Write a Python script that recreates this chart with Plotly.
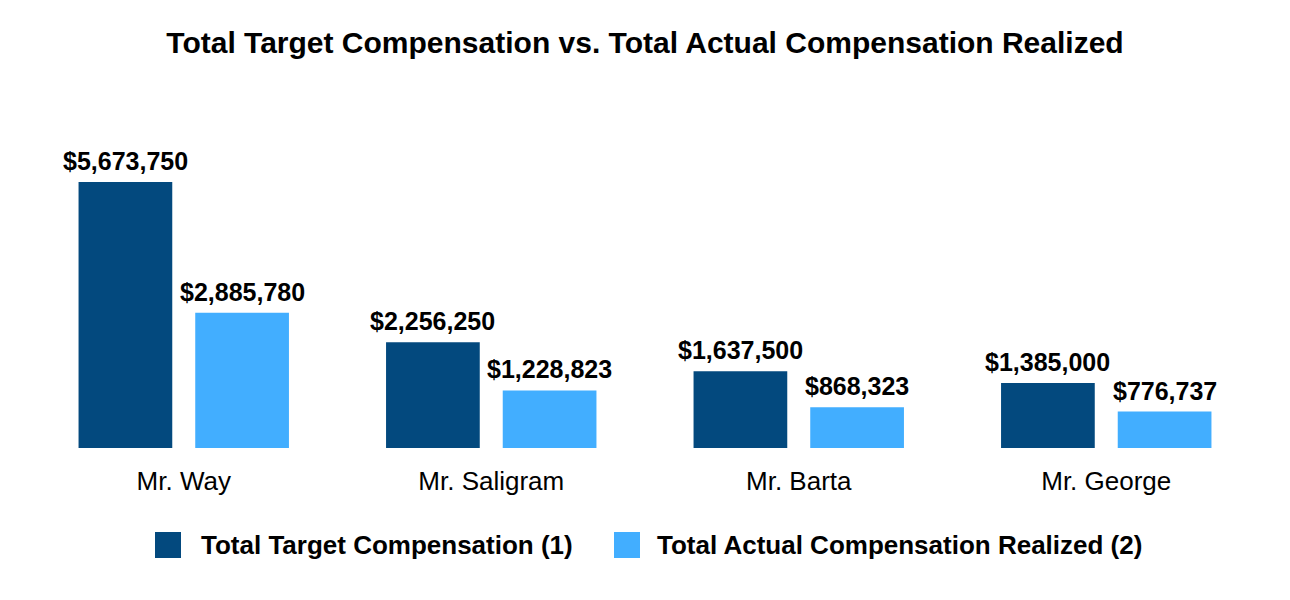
import plotly.graph_objects as go

categories = ["Mr. Way", "Mr. Saligram", "Mr. Barta", "Mr. George"]
target_comp = [5673750, 2256250, 1637500, 1385000]
actual_comp = [2885780, 1228823, 868323, 776737]
series_names = ["Total Target Compensation (1)", "Total Actual Compensation Realized (2)"]
colors = ["#03497E", "#42AEFF"]

W, H = 1290, 600
ML, MR, MT, MB = 30, 30, 100, 152
PW, PH = W - ML - MR, H - MT - MB
BARGAP, GROUPGAP = 0.241, 0.197

def px_x(px):
    return (px - ML) / PW

def px_y(py):
    return (H - MB - py) / PH

font_fam = "Liberation Sans, Arial, sans-serif"

fig = go.Figure()
series_vals = [target_comp, actual_comp]
for name, vals, col in zip(series_names, series_vals, colors):
    fig.add_trace(go.Bar(
        x=categories, y=vals, name=name, marker=dict(color=col, line=dict(width=0)),
        cliponaxis=False, showlegend=False, hoverinfo="x+y",
    ))

# value labels placed at each bar's data position
slot_px = PW / len(categories) * (1 - BARGAP) / 2
for i, vals in enumerate(series_vals):
    shift = (i - 0.5) * slot_px
    for cat, v in zip(categories, vals):
        fig.add_annotation(x=cat, y=v, xref="x", yref="y", xshift=shift, yshift=5,
                           xanchor="center", yanchor="bottom", showarrow=False,
                           text=f"<b>${v:,.0f}</b>",
                           font=dict(family=font_fam, size=25, color="#000000"))

# manual legend
legend_items = [(155, 199), (614, 655)]
for (sx, tx), name, col in zip(legend_items, series_names, colors):
    fig.add_shape(type="rect", xref="paper", yref="paper",
                  x0=px_x(sx), x1=px_x(sx + 26), y0=px_y(558), y1=px_y(532),
                  fillcolor=col, line=dict(width=0))
    fig.add_annotation(xref="paper", yref="paper", x=px_x(tx), y=px_y(545),
                       xanchor="left", yanchor="middle", showarrow=False,
                       text=f"<b>{name}</b>",
                       font=dict(family=font_fam, size=26, color="#000000"))

fig.update_layout(
    width=W, height=H,
    margin=dict(l=ML, r=MR, t=MT, b=MB),
    paper_bgcolor="white", plot_bgcolor="white",
    title=dict(text="<b>Total Target Compensation vs. Total Actual Compensation Realized</b>",
               x=0.5, xanchor="center", y=1 - 42 / H, yanchor="middle",
               font=dict(family=font_fam, size=30, color="#000000")),
    barmode="group", bargap=BARGAP, bargroupgap=GROUPGAP,
    xaxis=dict(showgrid=False, showline=False, zeroline=False, ticks="",
               ticklabelstandoff=15,
               tickfont=dict(family=font_fam, size=26, color="#000000")),
    yaxis=dict(range=[0, 7423000], visible=False, showgrid=False, zeroline=False),
    showlegend=False,
)

fig.write_html("out.html")
